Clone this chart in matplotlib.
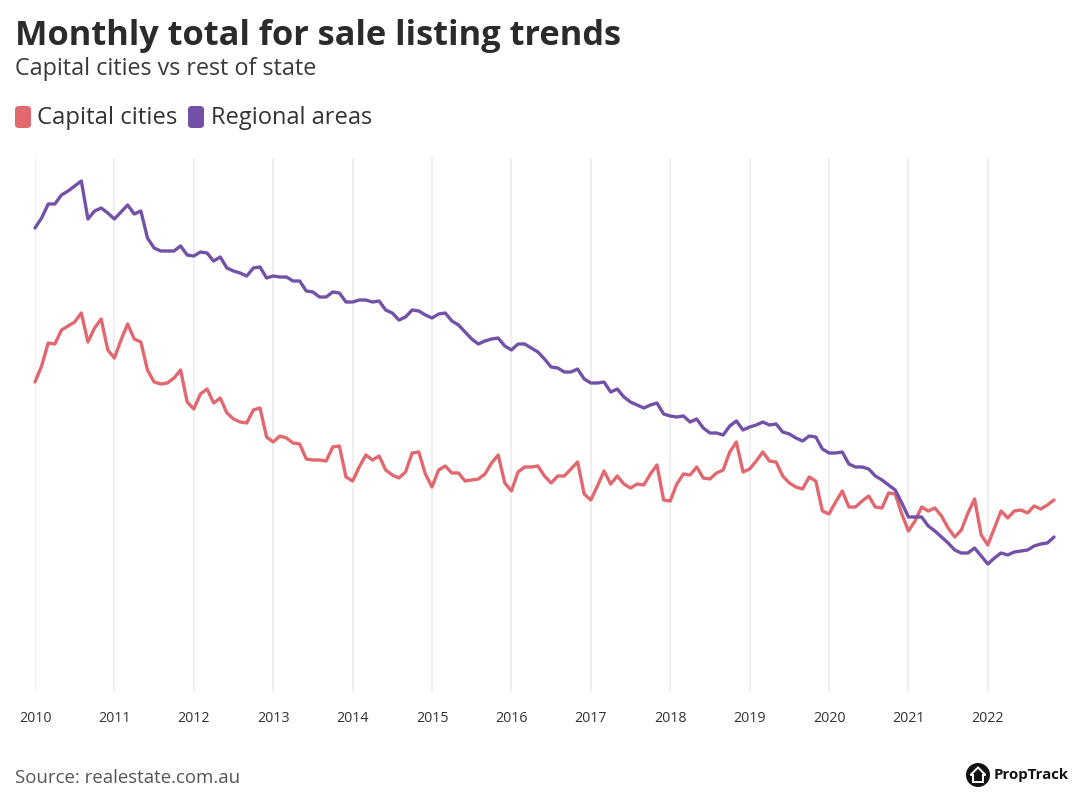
import numpy as np
import matplotlib
matplotlib.use("Agg")
import matplotlib.pyplot as plt
from matplotlib.patches import FancyBboxPatch, Circle, Polygon

# ---------------- data (monthly, Jan 2010 - Nov 2022, index units) ----------------
start_year = 2010
n_months = 155
capital_cities = [
    308, 324, 347, 346, 360, 364, 368, 377, 348, 362, 371, 340,
    332, 350, 366, 351, 348, 320, 308, 306, 307, 312, 320, 288,
    281, 296, 301, 287, 292, 277, 271, 268, 267, 280, 282, 253,
    248, 254, 252, 247, 246, 231, 230, 230, 229, 243, 244, 213,
    209, 223, 235, 230, 234, 220, 215, 212, 218, 237, 238, 216,
    203, 220, 224, 217, 217, 209, 210, 211, 216, 227, 235, 207,
    199, 218, 223, 223, 224, 214, 207, 214, 214, 221, 228, 196,
    190, 204, 219, 206, 214, 206, 202, 206, 205, 216, 225, 190,
    189, 206, 216, 215, 223, 212, 211, 217, 220, 238, 248, 218,
    221, 229, 238, 229, 228, 214, 207, 203, 201, 213, 209, 179,
    176, 188, 199, 183, 183, 189, 194, 183, 182, 197, 196, 176,
    159, 169, 183, 179, 182, 174, 162, 153, 160, 177, 191, 155,
    145, 162, 179, 172, 179, 180, 177, 184, 181, 185, 190,
]
regional_areas = [
    462, 472, 486, 486, 495, 499, 504, 509, 471, 479, 482, 477,
    471, 478, 485, 476, 479, 452, 442, 439, 439, 439, 444, 435,
    434, 438, 437, 429, 433, 422, 419, 417, 414, 422, 423, 412,
    414, 413, 413, 409, 409, 399, 398, 393, 393, 398, 397, 388,
    388, 390, 390, 388, 389, 380, 377, 370, 373, 380, 379, 375,
    372, 376, 377, 369, 365, 358, 351, 346, 349, 351, 352, 344,
    340, 346, 346, 342, 338, 331, 323, 322, 318, 318, 321, 311,
    307, 307, 308, 298, 301, 293, 288, 285, 282, 285, 287, 276,
    274, 273, 274, 268, 271, 262, 257, 257, 255, 264, 269, 260,
    263, 265, 268, 265, 266, 258, 256, 252, 249, 254, 253, 241,
    237, 237, 238, 226, 223, 223, 221, 214, 210, 205, 200, 187,
    173, 173, 173, 164, 159, 153, 147, 140, 137, 137, 142, 134,
    126, 132, 137, 135, 138, 139, 140, 144, 146, 147, 153,
]
year_ticks = list(range(2010, 2023))
year_labels = [str(y) for y in year_ticks]
series_names = ["Capital cities", "Regional areas"]
series_colors = ["#E1686F", "#7451A8"]

months = start_year + np.arange(n_months) / 12.0

# ---------------- figure ----------------
W, H = 1080, 806
plt.rcParams['font.family'] = ['Open Sans', 'DejaVu Sans']
fig = plt.figure(figsize=(W / 100, H / 100), dpi=100)
fig.patch.set_facecolor("white")

def fx(x):
    return x / W

def fy(y):
    return 1 - y / H

ax_left, ax_right, ax_top, ax_bottom = 35, 1054, 158, 692
ax = fig.add_axes([fx(ax_left), fy(ax_bottom), (ax_right - ax_left) / W, (ax_bottom - ax_top) / H])
ax.set_facecolor("none")

for vals, col, name in zip([capital_cities, regional_areas], series_colors, series_names):
    ax.plot(months, vals, color=col, lw=2.4, solid_joinstyle="round",
            solid_capstyle="round", label=name, zorder=3, clip_on=False)

ax.set_xlim(start_year, months[-1])
ax.set_ylim(-2, 532)
ax.set_xticks(year_ticks)
ax.set_xticklabels(year_labels, fontsize=10.3, color="#333333")
ax.set_yticks([])
ax.tick_params(axis="x", length=0, pad=14)
for s in ax.spines.values():
    s.set_visible(False)
ax.grid(axis="x", color="#ECECEC", lw=1.2, zorder=0)

# ---------------- texts ----------------
renderer = fig.canvas.get_renderer()

def fit_text(x, y, s, target_w, size, **kw):
    t = fig.text(fx(x), fy(y), s, fontsize=size, **kw)
    w = t.get_window_extent(renderer=renderer).width
    t.set_fontsize(size * target_w / w)
    return t

fit_text(15, 36, "Monthly total for sale listing trends", 607, 24,
         fontweight="bold", color="#2b2b2b", va="center", ha="left")
fit_text(15, 69, "Capital cities vs rest of state", 303, 15,
         color="#3a3a3a", va="center", ha="left")

# legend
leg_items = [(15, 37, 177), (188, 211, 372)]
for (bx, tx, tend), col, name in zip(leg_items, series_colors, series_names):
    p = FancyBboxPatch((fx(bx), fy(128)), 16 / W, 22 / H,
                       boxstyle="round,pad=0,rounding_size=0.004",
                       transform=fig.transFigure, facecolor=col, edgecolor="none")
    fig.patches.append(p)
    fit_text(tx, 118, name, tend - tx, 16, color="#333333", va="center", ha="left")

fit_text(15, 778, "Source: realestate.com.au", 225, 13,
         color="#555555", va="center", ha="left")

# PropTrack logo
cx, cy, r = 978, 775, 12
logo_ax = fig.add_axes([0, 0, 1, 1], zorder=5)
logo_ax.set_xlim(0, W)
logo_ax.set_ylim(H, 0)
logo_ax.axis("off")
logo_ax.add_patch(Circle((cx, cy), r, facecolor="#111111", edgecolor="none"))
house = [(cx - 5, cy + 7), (cx - 5, cy), (cx - 7.5, cy), (cx, cy - 7.5),
         (cx + 7.5, cy), (cx + 5, cy), (cx + 5, cy + 7)]
logo_ax.add_patch(Polygon(house, closed=True, facecolor="none", edgecolor="white", lw=1.4))
fit_text(994, 775, "PropTrack", 75, 12, fontweight="bold", color="#111111",
         va="center", ha="left")

fig.savefig("out.png", dpi=100, facecolor="white")
